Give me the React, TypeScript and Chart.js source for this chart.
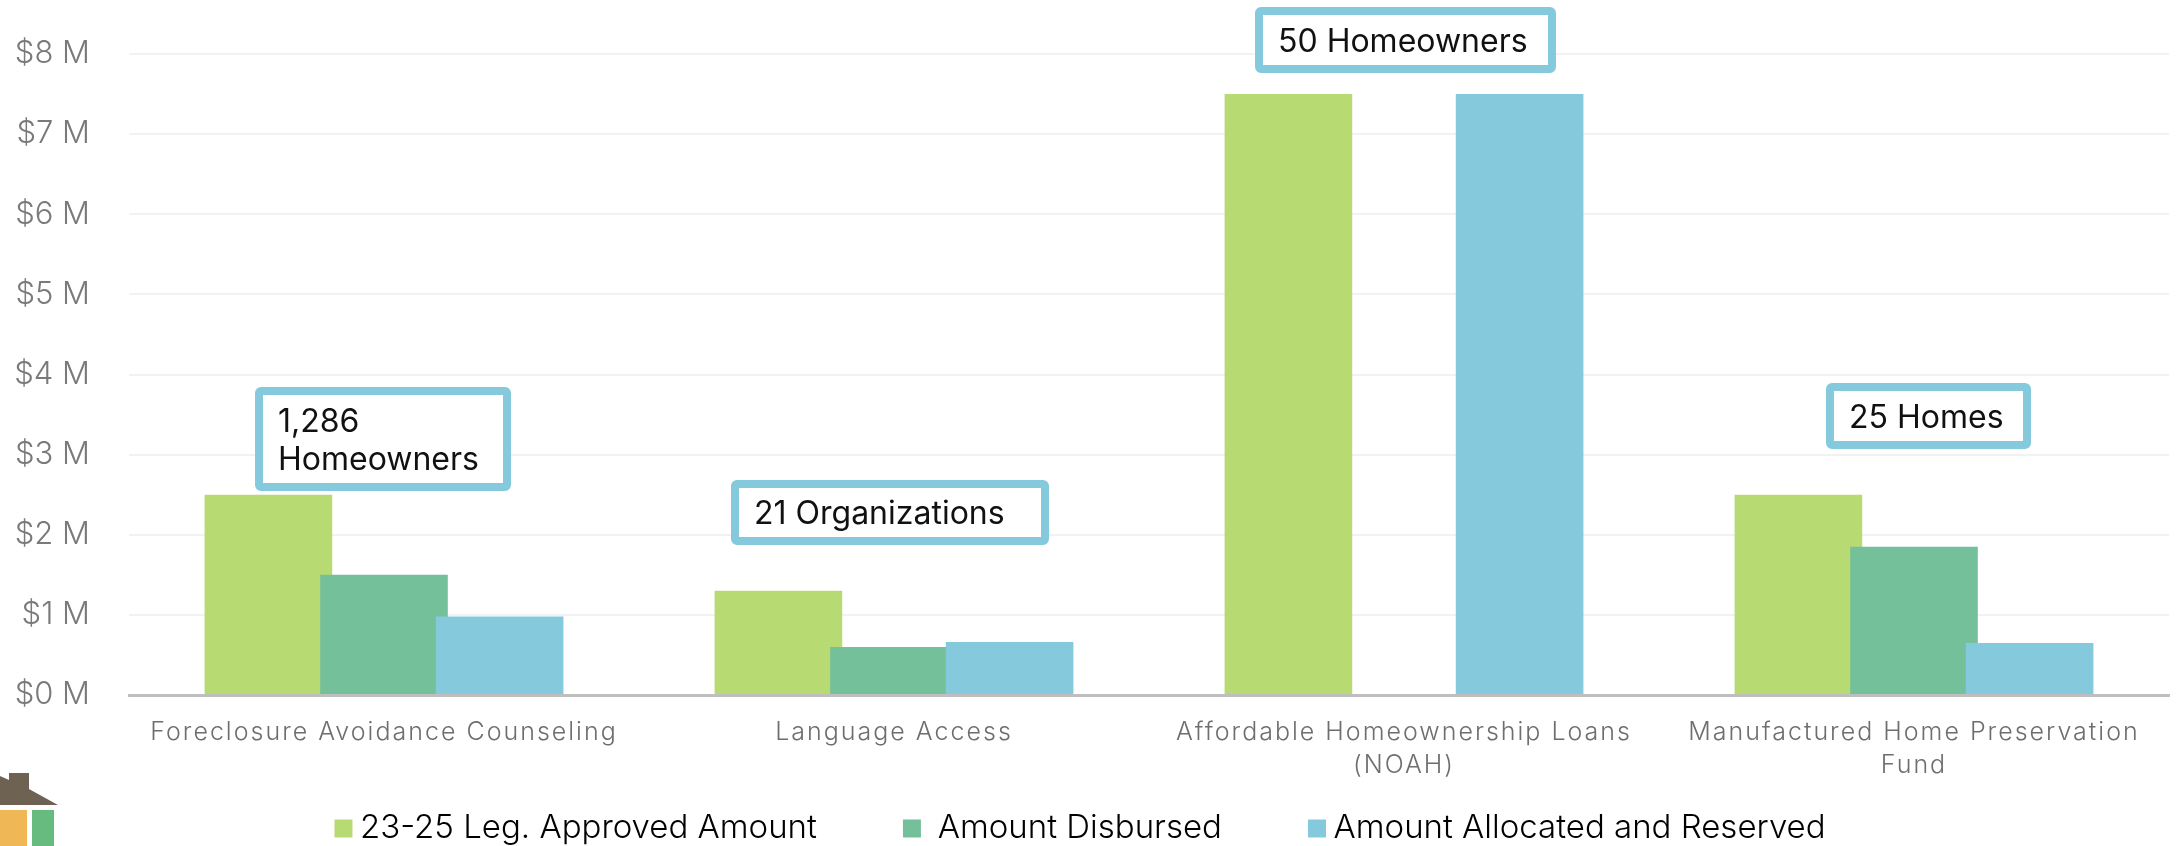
import React, { useEffect, useRef } from "react";
import { Chart, registerables } from "chart.js";

Chart.register(...registerables);

const categories = [
  "Foreclosure Avoidance Counseling",
  "Language Access",
  ["Affordable Homeownership Loans", "(NOAH)"],
  ["Manufactured Home Preservation", "Fund"],
];
const approved = [2.5, 1.3, 7.5, 2.5];
const disbursed = [1.5, 0.6, null, 1.85];
const allocated = [0.98, 0.66, 7.5, 0.65];
const seriesNames = ["23-25 Leg. Approved Amount", "Amount Disbursed", "Amount Allocated and Reserved"];
const seriesColors = ["#B8DA73", "#74C09A", "#84CADC"];
const calloutLines = [["1,286", "Homeowners"], ["21 Organizations"], ["50 Homeowners"], ["25 Homes"]];
const calloutBoxes = [
  [255, 387, 256, 104],
  [731, 480, 318, 65],
  [1255, 7, 301, 66],
  [1826, 383, 205, 66],
];

const FONT = "Inter";

const overlay = {
  id: "overlay",
  // Later series overlap earlier ones, so draw them in dataset order.
  beforeDatasetsDraw(chart: any) {
    chart.data.datasets.forEach((_: any, i: number) => chart.getDatasetMeta(i).controller.draw());
    return false;
  },
  afterDraw(chart: any) {
    const ctx = chart.ctx;
    ctx.save();
    calloutBoxes.forEach(([x, y, w, h], i) => {
      ctx.beginPath();
      ctx.roundRect(x + 4, y + 4, w - 8, h - 8, 2);
      ctx.fillStyle = "#fff";
      ctx.fill();
      ctx.lineWidth = 8;
      ctx.strokeStyle = "#84CADC";
      ctx.stroke();
      ctx.fillStyle = "#111";
      ctx.font = `400 32px ${FONT}`;
      ctx.textBaseline = "middle";
      ctx.textAlign = "left";
      calloutLines[i].forEach((line, j) => {
        const lines = calloutLines[i].length;
        ctx.fillText(line, x + 23, y + h / 2 + 2 + (j - (lines - 1) / 2) * 38);
      });
    });
    ctx.fillStyle = "#6E6353";
    ctx.beginPath();
    ctx.moveTo(0, 776);
    ctx.lineTo(9, 780);
    ctx.lineTo(9, 773);
    ctx.lineTo(29, 773);
    ctx.lineTo(29, 789);
    ctx.lineTo(58, 805);
    ctx.lineTo(0, 805);
    ctx.closePath();
    ctx.fill();
    ctx.fillStyle = "#EFB755";
    ctx.fillRect(0, 810, 27, 36);
    ctx.fillStyle = "#68BB7E";
    ctx.fillRect(32, 810, 22, 36);
    ctx.restore();
  },
};

export default function App() {
  const ref = useRef<HTMLCanvasElement>(null);
  useEffect(() => {
    document.body.style.margin = "0";
    const values = [approved, disbursed, allocated];
    const chart = new Chart(ref.current!, {
      type: "bar",
      data: {
        labels: categories as any,
        datasets: values.map((data, i) => ({
          label: seriesNames[i],
          data,
          backgroundColor: seriesColors[i],
          categoryPercentage: 0.68,
          barPercentage: 1.104,
        })),
      },
      plugins: [overlay],
      options: {
        animation: false,
        responsive: false,
        layout: { padding: { top: 54, right: 7, left: 0, bottom: -9 } },
        scales: {
          x: {
            grid: { display: false },
            border: { color: "#BFBFBF", width: 3 },
            ticks: {
              color: "#6E6E6E",
              font: { family: FONT, size: 25, weight: "300", lineHeight: 1.32 },
              padding: 13,
              maxRotation: 0,
              autoSkip: false,
            },
            afterFit: (s: any) => {
              s.height = 22;
              // The two-line labels sit above the tall legend box: no clip to this short box.
              s._computeLabelArea = () => undefined;
              const drawLabels = s.constructor.prototype.drawLabels;
              s.drawLabels = function (area: any) {
                const c = this.ctx;
                c.letterSpacing = "2px";
                drawLabels.call(this, area);
                c.letterSpacing = "0px";
              };
            },
          },
          y: {
            min: 0,
            max: 8,
            grid: { color: "#F2F2F2", lineWidth: 2, drawTicks: false },
            border: { display: false },
            ticks: {
              stepSize: 1,
              color: "#7A7A7A",
              padding: 39,
              font: { family: FONT, size: 31, weight: "300" },
              callback: (v: any) => `$${v} M`,
            },
            afterFit: (s: any) => {
              s.width = 129;
              s.paddingTop = 0;
              s.paddingBottom = 0;
            },
          },
        },
        plugins: {
          tooltip: { enabled: false },
          legend: {
            position: "bottom",
            labels: {
              usePointStyle: true,
              pointStyle: "rect",
              boxWidth: 0.1,
              boxHeight: 18,
              padding: 95,
              color: "#6B6B6B",
              font: { family: FONT, size: 33, weight: "300" },
              generateLabels: (c: any) =>
                c.data.datasets.map((d: any, i: number) => ({
                  text: i === 1 ? " " + d.label : d.label,
                  fillStyle: d.backgroundColor,
                  strokeStyle: d.backgroundColor,
                  lineWidth: 0,
                  pointStyle: "rect",
                  datasetIndex: i,
                  hidden: false,
                })),
            },
          },
        },
      },
    } as any);
    return () => chart.destroy();
  }, []);
  return <canvas ref={ref} width={2176} height={846} style={{ display: "block" }} />;
}
